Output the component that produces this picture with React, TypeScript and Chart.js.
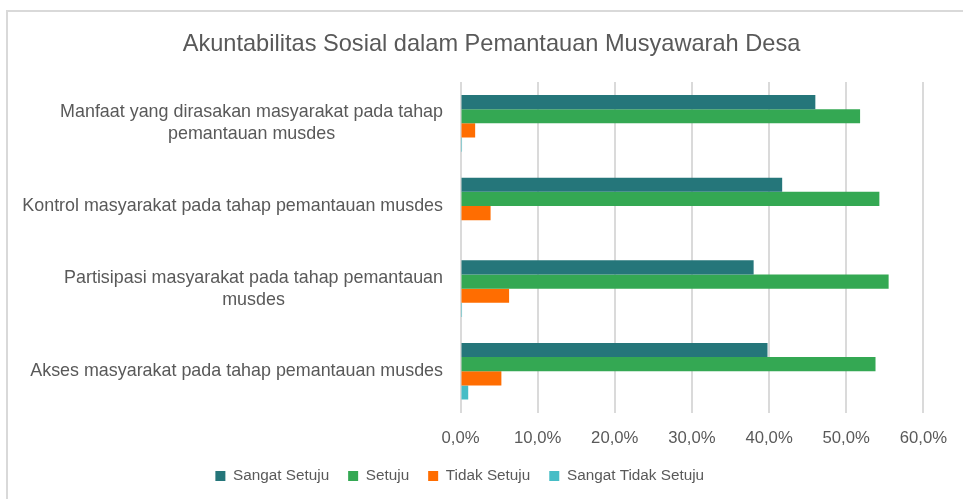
import React, { useEffect, useRef } from "react";
import { Chart, registerables } from "chart.js";
Chart.register(...registerables);

const TITLE = "Akuntabilitas Sosial dalam Pemantauan Musyawarah Desa";
const categories: string[][] = [
  ["Manfaat yang dirasakan masyarakat pada tahap", "pemantauan musdes"],
  ["Kontrol masyarakat pada tahap pemantauan musdes"],
  ["Partisipasi masyarakat pada tahap pemantauan", "musdes"],
  ["Akses masyarakat pada tahap pemantauan musdes"],
];
const seriesNames = ["Sangat Setuju", "Setuju", "Tidak Setuju", "Sangat Tidak Setuju"];
const sangatSetuju = [46.0, 41.7, 38.0, 39.8];
const setuju = [51.8, 54.3, 55.5, 53.8];
const tidakSetuju = [1.9, 3.9, 6.3, 5.3];
const sangatTidakSetuju = [0.2, 0, 0.2, 1.0];
const xMax = 60;
const xStep = 10;

const colors = ["#25767a", "#34a853", "#ff6d01", "#46bdc6"];
const FONT = '"Liberation Sans", Arial, sans-serif';
const TEXT = "#595959";

export default function App() {
  const ref = useRef<HTMLCanvasElement>(null);
  useEffect(() => {
    const canvas = ref.current!;
    const frame = {
      id: "frame",
      beforeDraw(chart: any) {
        const ctx = chart.ctx;
        ctx.save();
        ctx.fillStyle = "#ffffff";
        ctx.fillRect(0, 0, chart.width, chart.height);
        ctx.strokeStyle = "#d9d9d9";
        ctx.lineWidth = 2;
        ctx.strokeRect(7, 11, chart.width + 20, chart.height + 20);
        ctx.restore();
      },
      afterDraw(chart: any) {
        const ctx = chart.ctx;
        ctx.save();
        ctx.fillStyle = TEXT;
        ctx.font = `23.6px ${FONT}`;
        ctx.textAlign = "center";
        ctx.textBaseline = "middle";
        ctx.fillText(TITLE, 491.5, 44);
        const y = chart.scales.y;
        ctx.font = `17.9px ${FONT}`;
        const right = chart.chartArea.left - 17.5;
        const lh = 22;
        categories.forEach((lines, i) => {
          const cy = y.getPixelForTick(i);
          const widest = Math.max(...lines.map((l) => ctx.measureText(l).width));
          const cx = right - widest / 2;
          const y0 = cy - ((lines.length - 1) * lh) / 2;
          lines.forEach((l, j) => ctx.fillText(l, cx, y0 + j * lh));
        });
        ctx.restore();
      },
    };
    const data = [sangatSetuju, setuju, tidakSetuju, sangatTidakSetuju];
    const chart = new Chart(canvas, {
      type: "bar",
      data: {
        labels: categories.map((c) => c.join(" ")),
        datasets: seriesNames.map((name, i) => ({
          label: name,
          data: data[i],
          backgroundColor: colors[i],
          borderWidth: 0,
          categoryPercentage: 0.685,
          barPercentage: 1,
        })),
      },
      options: {
        indexAxis: "y",
        responsive: false,
        maintainAspectRatio: false,
        animation: false,
        layout: { padding: { left: -11.5, right: 32, top: 82, bottom: 5.3 } },
        scales: {
          x: {
            min: 0,
            max: xMax,
            ticks: {
              stepSize: xStep,
              padding: 16,
              color: TEXT,
              font: { family: FONT, size: 16.7 },
              callback: (v: any) => Number(v).toFixed(1).replace(".", ",") + "%",
            },
            grid: { color: "#dadada", lineWidth: 2, drawTicks: false },
            border: { display: false },
            afterFit: (s: any) => {
              s.height = 36.8;
            },
          },
          y: {
            ticks: { display: false },
            grid: { display: false, drawTicks: false },
            border: { display: false },
            afterFit: (s: any) => {
              s.width = 472;
            },
          },
        },
        plugins: {
          title: { display: false },
          tooltip: { enabled: false },
          legend: {
            position: "bottom",
            labels: {
              boxWidth: 10,
              boxHeight: 10,
              padding: 19,
              color: TEXT,
              font: { family: FONT, size: 15.3 },
            },
          },
        },
      },
      plugins: [frame],
    });
    return () => chart.destroy();
  }, []);
  return (
    <div style={{ position: "fixed", left: 0, top: 0, width: 963, height: 499 }}>
      <canvas ref={ref} width={963} height={499} style={{ width: 963, height: 499, display: "block" }} />
    </div>
  );
}
